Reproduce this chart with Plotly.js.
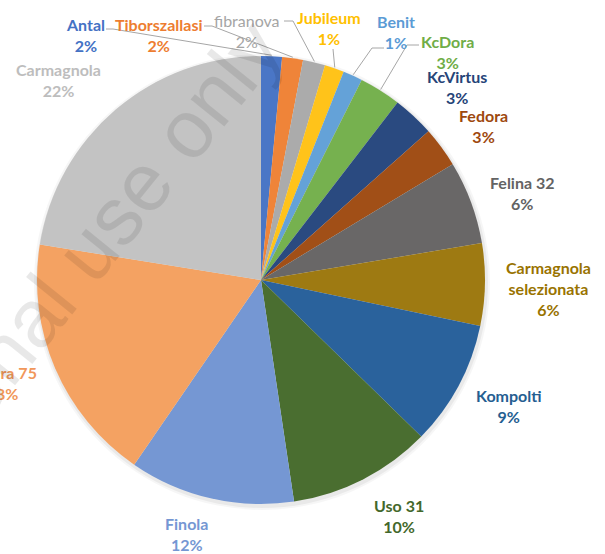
<!DOCTYPE html>
<html>
<head>
<meta charset="utf-8">
<script src="https://cdn.plot.ly/plotly-3.0.1.min.js"></script>
<style>html,body{margin:0;padding:0;background:#fff;}#chart{width:605px;height:554px;}</style>
</head>
<body>
<div id="chart"></div>
<script>
// ---- data ----
const categories = ["Antal","Tiborszallasi","fibranova","Jubileum","Benit","KcDora","KcVirtus","Fedora","Felina 32","Carmagnola selezionata","Kompolti","Uso 31","Finola","Futura 75","Carmagnola"];
const shares = [1.5, 1.5, 1.6, 1.4, 1.4, 3.0, 3.0, 2.9, 6.0, 5.9, 9.0, 10.3, 11.9, 17.9, 22.4];
const labelNames = ["Antal","Tiborszallasi","fibranova","Jubileum","Benit","KcDora","KcVirtus","Fedora","Felina 32","Carmagnola<br>selezionata","Kompolti","Uso 31","Finola","Futura 75","Carmagnola"];

// ---- styles / layout positions ----
const colors = ["#4A76C6","#EF8439","#ABABAB","#FFC31A","#64A2D8","#76B14F","#2A4A80","#A14F17","#696767","#9E7A12","#2A629C","#4A6E30","#7597D3","#F4A262","#C3C3C3"];
const textColors = ["#4472C4","#ED7D31","#A5A5A5","#FFC000","#5B9BD5","#70AD47","#264478","#9E480E","#636363","#997300","#255E91","#43682B","#7597D3","#F1975A","#BDBDBD"];
const W = 605, H = 554;
const CX = 261, CY = 280, R = 224;
// label block centres in pixels
const labelPos = [[85,35],[158,35],[247,31],[329,28],[396,32],[447,52],[457,87],[483,126],[522,193],[548,288],[509,406],[399,516],[186,534],[2,383],[58,80]];
// leader line start points (pixels) and horizontal stub length; null = no leader
const leaders = [[106,29,7],[204,26,8],[284,21,9],[333,49,0],[384,48,-12],[419,45,-12],null,null,null,null,null,null,null,null,null];

const total = shares.reduce((a,b)=>a+b,0);
const pct = shares.map(v => Math.round(v/total*100) + "%");

const px = x => x / W;
const py = y => 1 - y / H;

const annotations = categories.map((c,i) => ({
  x: px(labelPos[i][0]), y: py(labelPos[i][1]), xref:'paper', yref:'paper',
  xanchor:'center', yanchor:'middle', align:'center', showarrow:false,
  text: labelNames[i] + "<br>" + pct[i],
  font: {family:'Lato, "Open Sans", sans-serif', size:16, color: textColors[i], weight: (i===2 ? 400 : 700)}
}));

// watermark
annotations.push({
  x: px(16), y: py(338), xref:'paper', yref:'paper', xanchor:'center', yanchor:'middle', showarrow:false,
  text: "For personal use only", textangle: -51,
  font: {family:'"Liberation Sans", Arial, sans-serif', size:82, color:'rgba(0,0,0,0.09)'}
});

const shapes = [];
// soft shadow behind pie
[[4,0.035],[2,0.05]].forEach(([g,a]) => {
  shapes.push({type:'circle', xref:'paper', yref:'paper', layer:'below',
    x0:px(CX-R-g+1), x1:px(CX+R+g+1), y0:py(CY+R+g+2), y1:py(CY-R-g+2),
    fillcolor:`rgba(0,0,0,${a})`, line:{width:0}});
});
let cum = 0;
shares.forEach((v,i) => {
  const mid = (cum + v/2) / total;
  cum += v;
  const L = leaders[i];
  if (!L) return;
  const th = 2*Math.PI*mid;
  const rx = CX + (R+1) * Math.sin(th);
  const ry = CY - (R+1) * Math.cos(th);
  const sx = L[0], sy = L[1], ex = L[0] + L[2];
  shapes.push({
    type:'path', xref:'paper', yref:'paper',
    path: `M ${px(sx)} ${py(sy)} L ${px(ex)} ${py(sy)} L ${px(rx)} ${py(ry)}`,
    line:{color:'#A6A6A6', width:1}
  });
});

const trace = {
  type:'pie',
  labels: categories,
  values: shares,
  sort:false,
  direction:'clockwise',
  rotation:0,
  textinfo:'none',
  hoverinfo:'label+percent',
  marker:{colors: colors, line:{width:0}},
  domain:{x:[(CX-R)/W,(CX+R)/W], y:[1-(CY+R)/H, 1-(CY-R)/H]},
  showlegend:false
};

Plotly.newPlot('chart', [trace], {
  width: W, height: H,
  margin:{l:0,r:0,t:0,b:0},
  paper_bgcolor:'#fff', plot_bgcolor:'rgba(0,0,0,0)',
  showlegend:false,
  annotations: annotations,
  shapes: shapes
}, {displayModeBar:false, staticPlot:true});
</script>
</body>
</html>
